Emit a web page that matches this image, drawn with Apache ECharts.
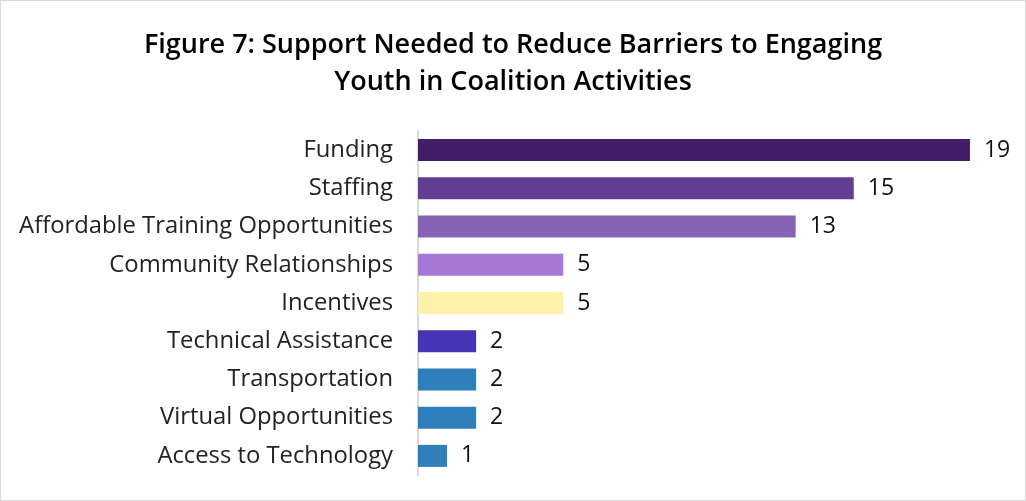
<!DOCTYPE html>
<html>
<head>
<meta charset="utf-8">
<script src="https://cdn.jsdelivr.net/npm/echarts@6/dist/echarts.min.js"></script>
<style>
  html, body { margin: 0; padding: 0; background: #fff; }
  #chart { width: 1024px; height: 499px; border: 1px solid #d9d9d9; }
</style>
</head>
<body>
<div id="chart"></div>
<script>
// data
var categories = ['Funding', 'Staffing', 'Affordable Training Opportunities', 'Community Relationships',
    'Incentives', 'Technical Assistance', 'Transportation', 'Virtual Opportunities', 'Access to Technology'];
var counts = [19, 15, 13, 5, 5, 2, 2, 2, 1];
var barColors = ['#421d69', '#623d91', '#8763b5', '#a679d6', '#fef1a9', '#4335b3', '#2e7fba', '#2e7fba', '#2e7fba'];

var myChart = echarts.init(document.getElementById('chart'));
myChart.setOption({
    title: {
        text: 'Figure 7: Support Needed to Reduce Barriers to Engaging\nYouth in Coalition Activities',
        left: 'center',
        top: 21,
        textStyle: {
            fontFamily: 'Open Sans',
            fontSize: 27,
            fontWeight: 600,
            color: '#000',
            lineHeight: 37
        }
    },
    grid: {
        left: 417,
        right: 26,
        top: 130,
        bottom: 25
    },
    xAxis: {
        type: 'value',
        min: 0,
        max: 20,
        show: false
    },
    yAxis: {
        type: 'category',
        inverse: true,
        data: categories,
        axisTick: { show: false }, //隐藏刻度线
        axisLine: { lineStyle: { color: '#d9d9d9', width: 2 } },
        axisLabel: {
            margin: 25,
            fontFamily: 'Open Sans',
            fontSize: 23.8,
            color: '#222'
        }
    },
    series: [
        {
            type: 'bar',
            barWidth: 22,
            data: counts.map(function (v, i) {
                return { value: v, itemStyle: { color: barColors[i] } };
            }),
            label: {
                show: true,
                position: 'right',
                distance: 14,
                fontFamily: 'Open Sans',
                fontSize: 23,
                color: '#111'
            },
            animation: false
        }
    ]
});
</script>
</body>
</html>
